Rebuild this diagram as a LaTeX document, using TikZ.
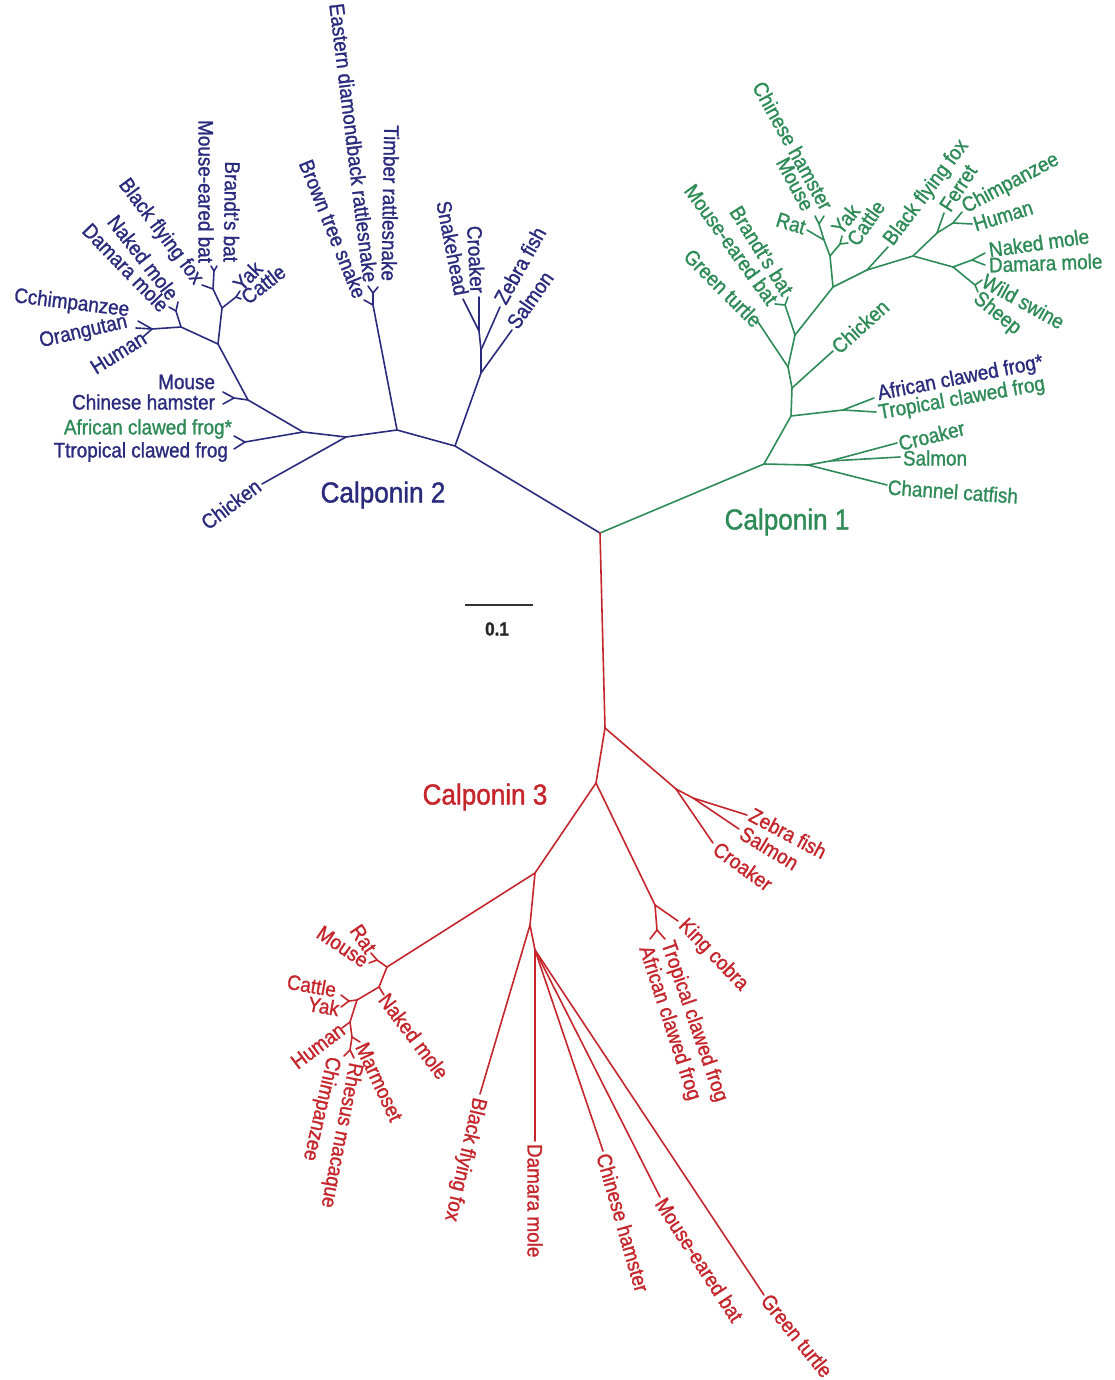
\documentclass[tikz,border=0pt]{standalone}
\usepackage{fontspec}
\setmainfont[FakeStretch=0.9,FakeBold=1.2]{Liberation Sans}
\definecolor{cb}{RGB}{43,43,125}
\definecolor{cg}{RGB}{46,139,87}
\definecolor{cr}{RGB}{196,38,44}
\begin{document}
\begin{tikzpicture}[x=1pt,y=-1pt,
  br/.style={line width=1.6pt, line cap=round, line join=round},
  bb/.style={br, draw=cb}, bg/.style={br, draw=cg}, brd/.style={br, draw=cr},
  lab/.style={inner sep=0.8pt, font=\fontsize{21}{24}\selectfont},
  lb/.style={lab, text=cb}, lg/.style={lab, text=cg}, lr/.style={lab, text=cr},
  ttl/.style={inner sep=0pt, font=\fontsize{29}{32}\selectfont}]
\useasboundingbox (0,0) rectangle (1114,1380);

% ---------------- Calponin 2 (blue) ----------------
\coordinate (R0) at (600,533);
\coordinate (B1) at (455,446);
\coordinate (F1) at (481,373);
\coordinate (F2) at (481,350);
\coordinate (F3) at (479,331);
\coordinate (tBsal) at (512,330);
\coordinate (tBzeb) at (500,307);
\coordinate (tBcro) at (479,297);
\coordinate (tBsnk) at (463,299);
\coordinate (B2) at (397,430);
\coordinate (S1) at (373,305);
\coordinate (S2) at (373,293);
\coordinate (tBbts) at (364,300);
\coordinate (tBedr) at (368,286);
\coordinate (tBtim) at (378,287);
\coordinate (B3) at (346,437);
\coordinate (tBchk) at (262,484);
\coordinate (B4) at (303,432);
\coordinate (Bfr) at (245,442);
\coordinate (tBafr) at (234,436);
\coordinate (tBtfr) at (234,449);
\coordinate (B5) at (248,400);
\coordinate (Bmh) at (234,398);
\coordinate (tBmou) at (223,392);
\coordinate (tBham) at (223,404);
\coordinate (B6) at (218,344);
\coordinate (B7) at (181,327);
\coordinate (Bml) at (176,311);
\coordinate (tBnak) at (178,302);
\coordinate (tBdam) at (169,307);
\coordinate (Bpr) at (152,329);
\coordinate (tBchi) at (138,321);
\coordinate (tBora) at (136,328);
\coordinate (tBhum) at (143,337);
\coordinate (Byc) at (222,308);
\coordinate (Bycf) at (236,297);
\coordinate (tByak) at (240,291);
\coordinate (tBcat) at (241,299);
\coordinate (Bbf) at (213,289);
\coordinate (tBbff) at (202,285);
\coordinate (Bbat) at (214,271);
\coordinate (tBmeb) at (211,266);
\coordinate (tBbra) at (217,266);

\draw[bb] (R0) -- (B1) -- (B2) -- (B3) -- (B4) -- (Bfr);
\draw[bb] (B1) -- (F1) -- (F2) -- (F3) -- (tBcro);
\draw[bb] (F1) -- (tBsal);
\draw[bb] (F2) -- (tBzeb);
\draw[bb] (F3) -- (tBsnk);
\draw[bb] (B2) -- (S1) -- (S2) -- (tBedr);
\draw[bb] (S2) -- (tBtim);
\draw[bb] (S1) -- (tBbts);
\draw[bb] (B3) -- (tBchk);
\draw[bb] (Bfr) -- (tBafr);
\draw[bb] (Bfr) -- (tBtfr);
\draw[bb] (B4) -- (B5) -- (B6) -- (B7) -- (Bpr);
\draw[bb] (B5) -- (Bmh) -- (tBmou);
\draw[bb] (Bmh) -- (tBham);
\draw[bb] (B7) -- (Bml) -- (tBnak);
\draw[bb] (Bml) -- (tBdam);
\draw[bb] (Bpr) -- (tBchi);
\draw[bb] (Bpr) -- (tBora);
\draw[bb] (Bpr) -- (tBhum);
\draw[bb] (B6) -- (Byc) -- (Bbf) -- (Bbat) -- (tBmeb);
\draw[bb] (Bbat) -- (tBbra);
\draw[bb] (Byc) -- (Bycf) -- (tByak);
\draw[bb] (Bycf) -- (tBcat);
\draw[bb] (Bbf) -- (tBbff);

\node[lb,anchor=west,rotate=55] (lBsal) at (511,327) {Salmon};
\node[lb,anchor=west,rotate=61] (lBzeb) at (499,303) {Zebra fish};
\node[lb,anchor=east,rotate=-87] (lBcro) at (478,294) {Croaker};
\node[lb,anchor=east,rotate=-79] (lBsnk) at (462,296) {Snakehead};
\node[lb,anchor=east,rotate=-91] (lBtim) at (389,282) {Timber rattlesnake};
\node[lb,anchor=east,rotate=-83] (lBedr) at (371,283) {Eastern diamondback rattlesnake};
\node[lb,anchor=east,rotate=-68] (lBbts) at (361,298) {Brown tree snake};
\node[lb,anchor=east,rotate=37] (lBchk) at (259,483) {Chicken};
\node[lg,anchor=east] (lBafr) at (233,429) {African clawed frog*};
\node[lb,anchor=east] (lBtfr) at (229,452) {Ttropical clawed frog};
\node[lb,anchor=east] (lBmou) at (216,382) {Mouse};
\node[lb,anchor=east] (lBham) at (216,402) {Chinese hamster};
\node[lb,anchor=east,rotate=-7] (lBchi) at (130,311) {Cchimpanzee};
\node[lb,anchor=east,rotate=13] (lBora) at (128,322) {Orangutan};
\node[lb,anchor=east,rotate=32] (lBhum) at (145,336) {Human};
\node[lb,anchor=east,rotate=-46] (lBdam) at (166,309) {Damara mole};
\node[lb,anchor=east,rotate=-52] (lBnak) at (175,298) {Naked mole};
\node[lb,anchor=east,rotate=-53] (lBbff) at (199,283) {Black flying fox};
\node[lb,anchor=east,rotate=-90] (lBmeb) at (206,264) {Mouse-eared bat};
\node[lb,anchor=east,rotate=-91] (lBbra) at (231,263) {Brandt's bat};
\node[lb,anchor=west,rotate=46] (lByak) at (236,288) {Yak};
\node[lb,anchor=west,rotate=38] (lBcat) at (243,300) {Cattle};

% ---------------- Calponin 1 (green) ----------------
\coordinate (G1) at (764,464);
\coordinate (G2) at (791,416);
\coordinate (Gfr) at (843,410);
\coordinate (tGafr) at (874,398);
\coordinate (tGtfr) at (876,412);
\coordinate (G3) at (792,388);
\coordinate (tGchk) at (833,351);
\coordinate (G4) at (788,367);
\coordinate (tGtur) at (758,322);
\coordinate (G5) at (795,335);
\coordinate (Gbat) at (785,305);
\coordinate (tGmeb) at (775,304);
\coordinate (tGbra) at (788,297);
\coordinate (G6) at (833,287);
\coordinate (G7) at (830,256);
\coordinate (Gr) at (824,240);
\coordinate (tGrat) at (807,230);
\coordinate (Gmh) at (819,224);
\coordinate (tGmou) at (815,216);
\coordinate (tGham) at (824,216);
\coordinate (Gyc) at (840,244);
\coordinate (tGyak) at (842,236);
\coordinate (tGcat) at (848,243);
\coordinate (Gbf) at (867,270);
\coordinate (tGbff) at (888,247);
\coordinate (G9) at (913,256);
\coordinate (G10) at (937,233);
\coordinate (tGfer) at (944,213);
\coordinate (Gpr) at (953,223);
\coordinate (tGchi) at (962,212);
\coordinate (tGhum) at (972,224);
\coordinate (G11) at (953,267);
\coordinate (Gml) at (972,260);
\coordinate (tGnak) at (985,253);
\coordinate (tGdam) at (985,265);
\coordinate (Gun) at (975,285);
\coordinate (tGsw) at (982,280);
\coordinate (tGshp) at (978,292);
\coordinate (Gf) at (808,465);
\coordinate (Gcs) at (830,461);
\coordinate (tGcro) at (897,443);
\coordinate (tGsal) at (900,457);
\coordinate (tGccf) at (887,485);

\draw[bg] (R0) -- (G1) -- (G2) -- (G3) -- (G4) -- (G5) -- (G6) -- (Gbf) -- (G9) -- (G11) -- (Gml) -- (tGnak);
\draw[bg] (G1) -- (Gf) -- (Gcs) -- (tGcro);
\draw[bg] (Gcs) -- (tGsal);
\draw[bg] (Gf) -- (tGccf);
\draw[bg] (G2) -- (Gfr) -- (tGafr);
\draw[bg] (Gfr) -- (tGtfr);
\draw[bg] (G3) -- (tGchk);
\draw[bg] (G4) -- (tGtur);
\draw[bg] (G5) -- (Gbat) -- (tGmeb);
\draw[bg] (Gbat) -- (tGbra);
\draw[bg] (G6) -- (G7) -- (Gr) -- (tGrat);
\draw[bg] (Gr) -- (Gmh) -- (tGmou);
\draw[bg] (Gmh) -- (tGham);
\draw[bg] (G7) -- (Gyc) -- (tGyak);
\draw[bg] (Gyc) -- (tGcat);
\draw[bg] (Gbf) -- (tGbff);
\draw[bg] (G9) -- (G10) -- (tGfer);
\draw[bg] (G10) -- (Gpr) -- (tGchi);
\draw[bg] (Gpr) -- (tGhum);
\draw[bg] (Gml) -- (tGdam);
\draw[bg] (G11) -- (Gun) -- (tGsw);
\draw[bg] (Gun) -- (tGshp);

\node[lg,anchor=east,rotate=-45] (lGtur) at (759,324) {Green turtle};
\node[lg,anchor=east,rotate=-54] (lGmeb) at (774,303) {Mouse-eared bat};
\node[lg,anchor=east,rotate=-58] (lGbra) at (789,294) {Brandt's bat};
\node[lg,anchor=east,rotate=-61] (lGham) at (828,209) {Chinese hamster};
\node[lg,anchor=east,rotate=-62] (lGmou) at (809,210) {Mouse};
\node[lg,anchor=east,rotate=-17] (lGrat) at (806,228) {Rat};
\node[lg,anchor=west,rotate=51] (lGyak) at (835,232) {Yak};
\node[lg,anchor=west,rotate=55] (lGcat) at (851,244) {Cattle};
\node[lg,anchor=west,rotate=53] (lGbff) at (888,244) {Black flying fox};
\node[lg,anchor=west,rotate=57] (lGfer) at (944,210) {Ferret};
\node[lg,anchor=west,rotate=28] (lGchi) at (963,209) {Chimpanzee};
\node[lg,anchor=west,rotate=17] (lGhum) at (973,225) {Human};
\node[lg,anchor=west,rotate=8] (lGnak) at (988,250) {Naked mole};
\node[lg,anchor=west,rotate=2] (lGdam) at (988,265) {Damara mole};
\node[lg,anchor=west,rotate=-29] (lGsw) at (983,279) {Wild swine};
\node[lg,anchor=west,rotate=-39] (lGshp) at (975,296) {Sheep};
\node[lg,anchor=west,rotate=42] (lGchk) at (834,350) {Chicken};
\node[lb,anchor=west,rotate=11] (lGafr) at (877,395) {African clawed frog*};
\node[lg,anchor=west,rotate=10] (lGtfr) at (878,414) {Tropical clawed frog};
\node[lg,anchor=west,rotate=14] (lGcro) at (898,444) {Croaker};
\node[lg,anchor=west] (lGsal) at (902,458) {Salmon};
\node[lg,anchor=west,rotate=-4] (lGccf) at (887,487) {Channel catfish};

% ---------------- Calponin 3 (red) ----------------
\coordinate (R1) at (605,728);
\coordinate (Rf) at (676,789);
\coordinate (Rzs) at (693,798);
\coordinate (tRzeb) at (747,815);
\coordinate (tRsal) at (739,829);
\coordinate (tRcro) at (713,843);
\coordinate (R2) at (596,783);
\coordinate (Rk) at (655,905);
\coordinate (tRkc) at (678,921);
\coordinate (Rfr) at (657,930);
\coordinate (tRtfr) at (665,939);
\coordinate (tRafr) at (650,939);
\coordinate (R3) at (535,873);
\coordinate (R4) at (530,925);
\coordinate (tRbff) at (480,1094);
\coordinate (R5) at (535,950);
\coordinate (tRdam) at (535,1141);
\coordinate (tRham) at (603,1151);
\coordinate (tRmeb) at (660,1197);
\coordinate (tRtur) at (764,1295);
\coordinate (Rr) at (387,967);
\coordinate (Rrm) at (377,960);
\coordinate (tRrat) at (371,953);
\coordinate (tRmou) at (369,963);
\coordinate (Rn) at (379,987);
\coordinate (tRnak) at (384,995);
\coordinate (Ry) at (357,1000);
\coordinate (Ryc) at (349,1001);
\coordinate (tRcat) at (341,995);
\coordinate (tRyak) at (341,1007);
\coordinate (Rh) at (350,1022);
\coordinate (tRhum) at (342,1028);
\coordinate (Rm) at (352,1037);
\coordinate (tRmar) at (360,1042);
\coordinate (Rc) at (350,1050);
\coordinate (tRrhe) at (354,1058);
\coordinate (tRchi) at (344,1056);

\draw[brd] (R0) -- (R1) -- (R2) -- (R3) -- (Rr) -- (Rn) -- (Ry) -- (Rh) -- (Rm) -- (Rc) -- (tRrhe);
\draw[brd] (Rc) -- (tRchi);
\draw[brd] (R1) -- (Rf) -- (tRcro);
\draw[brd] (Rf) -- (Rzs) -- (tRzeb);
\draw[brd] (Rzs) -- (tRsal);
\draw[brd] (R2) -- (Rk) -- (tRkc);
\draw[brd] (Rk) -- (Rfr) -- (tRtfr);
\draw[brd] (Rfr) -- (tRafr);
\draw[brd] (R3) -- (R4) -- (tRbff);
\draw[brd] (R4) -- (R5) -- (tRdam);
\draw[brd] (R5) -- (tRham);
\draw[brd] (R5) -- (tRmeb);
\draw[brd] (R5) -- (tRtur);
\draw[brd] (Rr) -- (Rrm) -- (tRrat);
\draw[brd] (Rrm) -- (tRmou);
\draw[brd] (Rn) -- (tRnak);
\draw[brd] (Ry) -- (Ryc) -- (tRcat);
\draw[brd] (Ryc) -- (tRyak);
\draw[brd] (Rh) -- (tRhum);
\draw[brd] (Rm) -- (tRmar);

\node[lr,anchor=west,rotate=-28] (lRzeb) at (750,813) {Zebra fish};
\node[lr,anchor=west,rotate=-31] (lRsal) at (741,831) {Salmon};
\node[lr,anchor=west,rotate=-36] (lRcro) at (715,846) {Croaker};
\node[lr,anchor=west,rotate=-46] (lRkc) at (681,922) {King cobra};
\node[lr,anchor=west,rotate=-71] (lRtfr) at (666,941) {Tropical clawed frog};
\node[lr,anchor=west,rotate=-72] (lRafr) at (644,946) {African clawed frog};
\node[lr,anchor=west,rotate=-103] (lRbff) at (479,1097) {Black flying fox};
\node[lr,anchor=west,rotate=-90] (lRdam) at (535,1143) {Damara mole};
\node[lr,anchor=west,rotate=-74] (lRham) at (603,1153) {Chinese hamster};
\node[lr,anchor=west,rotate=-57] (lRmeb) at (660,1199) {Mouse-eared bat};
\node[lr,anchor=west,rotate=-51] (lRtur) at (765,1296) {Green turtle};
\node[lr,anchor=east,rotate=-56] (lRrat) at (372,952) {Rat};
\node[lr,anchor=east,rotate=-34] (lRmou) at (367,963) {Mouse};
\node[lr,anchor=west,rotate=-53] (lRnak) at (383,995) {Naked mole};
\node[lr,anchor=east,rotate=-10] (lRcat) at (337,990) {Cattle};
\node[lr,anchor=east,rotate=-10] (lRyak) at (340,1009) {Yak};
\node[lr,anchor=east,rotate=37] (lRhum) at (343,1027) {Human};
\node[lr,anchor=west,rotate=-65] (lRmar) at (361,1043) {Marmoset};
\node[lr,anchor=west,rotate=-101] (lRrhe) at (355,1062) {Rhesus macaque};
\node[lr,anchor=west,rotate=-103] (lRchi) at (333,1056) {Chimpanzee};

% ---------------- titles and scale ----------------
\node[ttl,text=cb] (c2) at (383,495) {Calponin 2};
\node[ttl,text=cg] (c1) at (787,522) {Calponin 1};
\node[ttl,text=cr] (c3) at (485,797) {Calponin 3};
\coordinate (sa) at (465,605);
\coordinate (sb) at (533,605);
\draw[line width=1.8pt, draw=black!80] (sa) -- (sb);
\node[inner sep=0pt, font=\bfseries\fontsize{19}{22}\selectfont, text=black!85] (sc) at (497,629) {0.1};
\end{tikzpicture}
\end{document}
